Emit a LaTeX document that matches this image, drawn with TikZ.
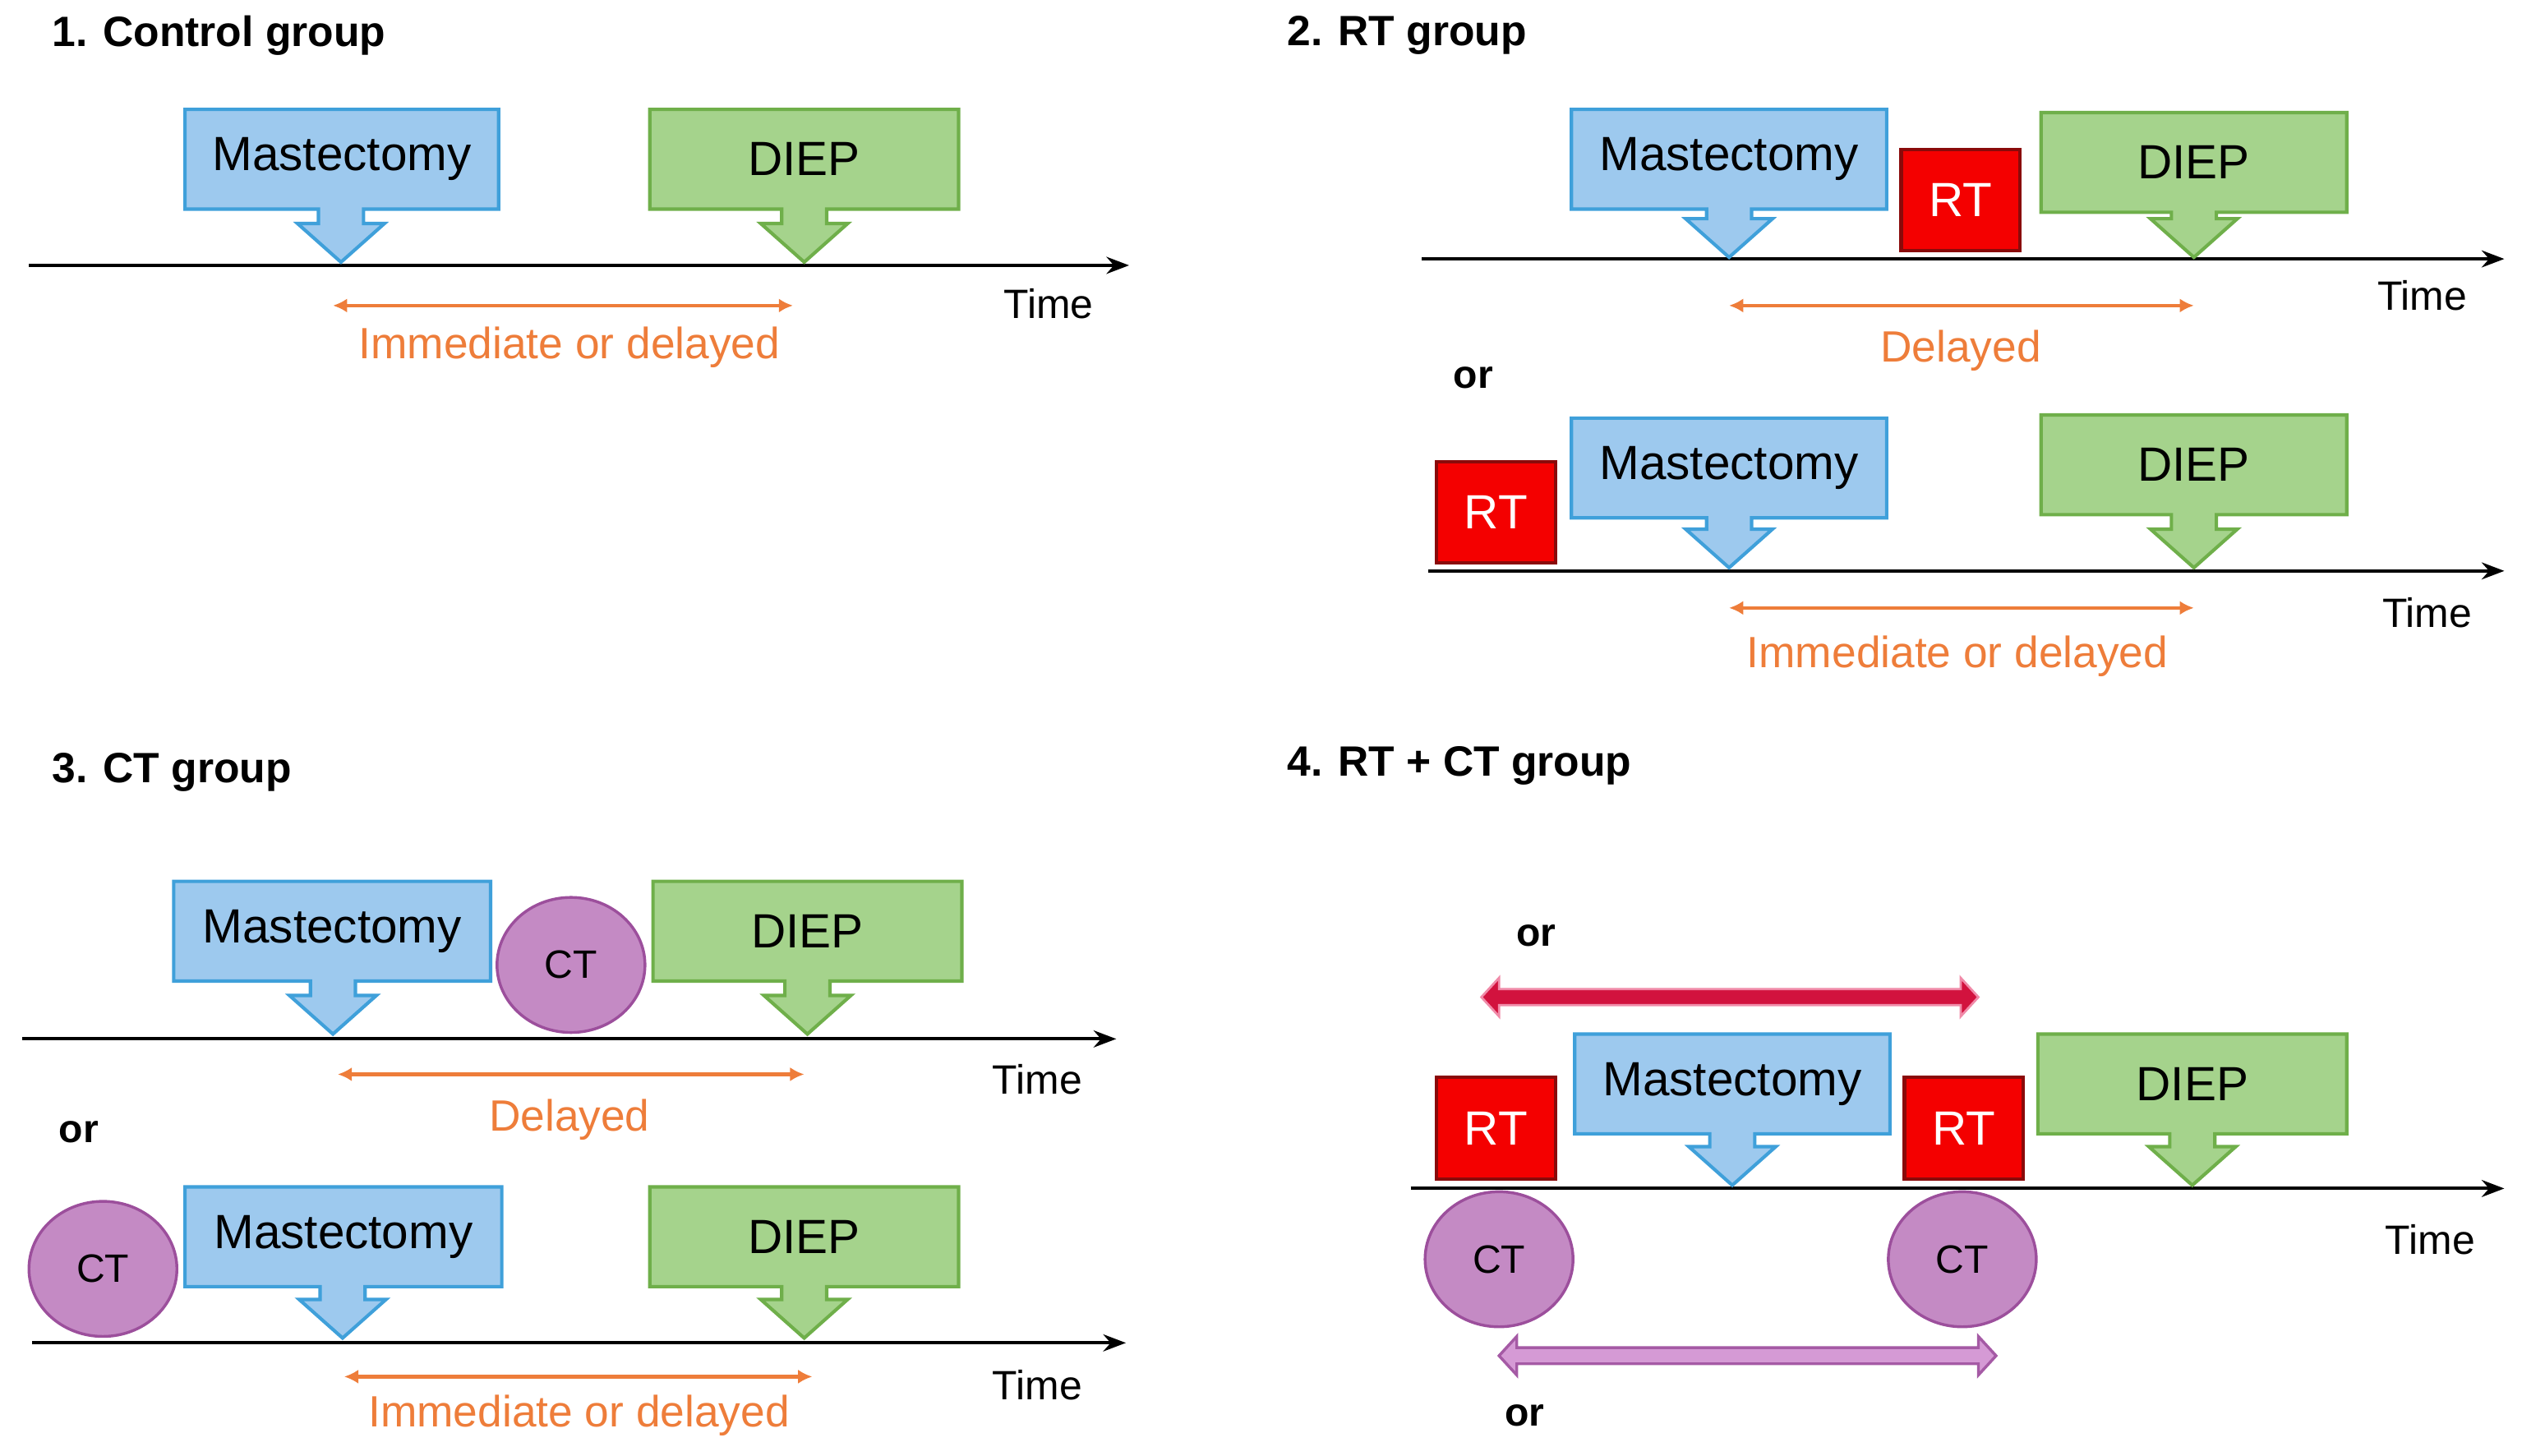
\documentclass[tikz,border=0pt]{standalone}
\usepackage{fontspec}
\setmainfont{Liberation Sans}
\usetikzlibrary{shapes.geometric,arrows.meta}
\definecolor{bfill}{HTML}{9DC9EE}
\definecolor{bdraw}{HTML}{3FA0DA}
\definecolor{gfill}{HTML}{A5D38C}
\definecolor{gdraw}{HTML}{6FAF4A}
\definecolor{rtred}{HTML}{F40000}
\definecolor{rtdraw}{HTML}{8A0A0A}
\definecolor{ctfill}{HTML}{C48AC4}
\definecolor{ctdraw}{HTML}{9C4F9C}
\definecolor{orng}{HTML}{EE7D3A}
\definecolor{crim}{HTML}{D2123E}
\definecolor{pinkd}{HTML}{F08AA8}
\definecolor{purp}{HTML}{D59AD5}
\definecolor{purpd}{HTML}{A55AA5}
\tikzset{
  lbl/.style={font=\fontsize{17pt}{19pt}\selectfont, inner sep=0},
  blue/.style={fill=bfill, draw=bdraw, line width=1.2pt},
  green/.style={fill=gfill, draw=gdraw, line width=1.2pt},
  rt/.style={rectangle, fill=rtred, draw=rtdraw, line width=1.2pt, minimum width=1.48cm, minimum height=1.26cm, text=white, font=\fontsize{17pt}{19pt}\selectfont, inner sep=0},
  ct/.style={ellipse, fill=ctfill, draw=ctdraw, line width=1pt, minimum width=1.84cm, minimum height=1.68cm, font=\fontsize{14pt}{16pt}\selectfont, inner sep=0},
  tl/.style={line width=1.2pt, -{Stealth[length=8pt,width=6pt]}},
  span/.style={orng, line width=1.2pt, {Latex[length=5pt,width=5pt]}-{Latex[length=5pt,width=5pt]}},
  spantxt/.style={text=orng, font=\fontsize{15.5pt}{17pt}\selectfont, inner sep=0},
  timetxt/.style={font=\fontsize{14.5pt}{16pt}\selectfont, inner sep=0},
  title/.style={font=\bfseries\fontsize{15pt}{17pt}\selectfont, anchor=west, inner sep=0},
  ortxt/.style={font=\bfseries\fontsize{14pt}{16pt}\selectfont, inner sep=0},
}
\newcommand\callout[9]{%
  \draw[#8] (#2,#4) -- (#3,#4) -- (#3,#5) -- ({#6+14},#5) -- ({#6+14},{#7-24}) -- ({#6+27},{#7-24}) -- (#6,#7) -- ({#6-27},{#7-24}) -- ({#6-14},{#7-24}) -- ({#6-14},#5) -- (#2,#5) -- cycle;
  \node[lbl] (#1) at ({(#2+#3)/2},{(#4+#5)/2}) {#9};}
\begin{document}
\begin{tikzpicture}[x=0.02cm,y=-0.02cm]
\useasboundingbox (0,0) rectangle (1568,905);
% Panel 1
\node[title] (t1) at (32,22) {1. Control group};
\coordinate (a1) at (18,165); \coordinate (b1) at (702,165);
\draw[tl] (a1) -- (b1);
\callout{m1}{115}{310}{68}{130}{212}{163}{blue}{Mastectomy}
\callout{d1}{404}{596}{68}{130}{500}{163}{green}{DIEP}
\node[timetxt] (time1) at (652,189) {Time};
\coordinate (s1a) at (207,190); \coordinate (s1b) at (493,190);
\draw[span] (s1a) -- (s1b);
\node[spantxt] (l1) at (354,216) {Immediate or delayed};
% Panel 2
\node[title] (t2) at (800,22) {2. RT group};
\coordinate (a2) at (884,161); \coordinate (b2) at (1557,161);
\draw[tl] (a2) -- (b2);
\callout{m2}{977}{1173}{68}{130}{1075}{160}{blue}{Mastectomy}
\callout{d2}{1269}{1459}{70}{132}{1364}{160}{green}{DIEP}
\node[rt] (r2) at (1219,124.5) {RT};
\node[timetxt] (time2) at (1506,184) {Time};
\coordinate (s2a) at (1075,190); \coordinate (s2b) at (1364,190);
\draw[span] (s2a) -- (s2b);
\node[spantxt] (l2) at (1219,218) {Delayed};
\node[ortxt] (or2) at (916,235) {or};
\coordinate (a3) at (888,355); \coordinate (b3) at (1557,355);
\draw[tl] (a3) -- (b3);
\callout{m3}{977}{1173}{260}{322}{1075}{353}{blue}{Mastectomy}
\callout{d3}{1269}{1459}{258}{320}{1364}{353}{green}{DIEP}
\node[rt] (r3) at (930,318.5) {RT};
\node[timetxt] (time3) at (1509,381) {Time};
\coordinate (s3a) at (1075,378); \coordinate (s3b) at (1364,378);
\draw[span] (s3a) -- (s3b);
\node[spantxt] (l3) at (1217,408) {Immediate or delayed};
% Panel 3
\node[title] (t3) at (32,480) {3. CT group};
\coordinate (a4) at (14,646); \coordinate (b4) at (694,646);
\draw[tl] (a4) -- (b4);
\callout{m4}{108}{305}{548}{610}{207}{643}{blue}{Mastectomy}
\callout{d4}{406}{598}{548}{610}{502}{643}{green}{DIEP}
\node[ct] (c4) at (355,600) {CT};
\node[timetxt] (time4) at (645,671) {Time};
\coordinate (s4a) at (210,668); \coordinate (s4b) at (500,668);
\draw[span] (s4a) -- (s4b);
\node[spantxt] (l4) at (354,696) {Delayed};
\node[ortxt] (or4) at (49,704) {or};
\coordinate (a5) at (20,835); \coordinate (b5) at (700,835);
\draw[tl] (a5) -- (b5);
\callout{m5}{115}{312}{738}{800}{213}{832}{blue}{Mastectomy}
\callout{d5}{404}{596}{738}{800}{500}{832}{green}{DIEP}
\node[ct] (c5) at (64,789) {CT};
\node[timetxt] (time5) at (645,861) {Time};
\coordinate (s5a) at (214,856); \coordinate (s5b) at (505,856);
\draw[span] (s5a) -- (s5b);
\node[spantxt] (l5) at (360,880) {Immediate or delayed};
% Panel 4
\node[title] (t6) at (800,476) {4. RT + CT group};
\node[ortxt] (or6a) at (955,582) {or};
\draw[fill=crim, draw=pinkd, line width=0.8pt] (921,620) -- (932,608) -- (932,615) -- (1219,615) -- (1219,608) -- (1230,620) -- (1219,632) -- (1219,625) -- (932,625) -- (932,632) -- cycle;
\coordinate (a6) at (877,739); \coordinate (b6) at (1557,739);
\draw[tl] (a6) -- (b6);
\callout{m6}{979}{1175}{643}{705}{1077}{737}{blue}{Mastectomy}
\callout{d6}{1267}{1459}{643}{705}{1363}{737}{green}{DIEP}
\node[rt] (r6a) at (930,701.5) {RT};
\node[rt] (r6b) at (1221,701.5) {RT};
\node[ct] (c6a) at (932,783) {CT};
\node[ct] (c6b) at (1220,783) {CT};
\node[timetxt] (time6) at (1511,771) {Time};
\draw[fill=purp, draw=purpd, line width=1pt] (932,843) -- (943,831) -- (943,838) -- (1230,838) -- (1230,831) -- (1241,843) -- (1230,855) -- (1230,848) -- (943,848) -- (943,855) -- cycle;
\node[ortxt] (or6b) at (948,880) {or};
\end{tikzpicture}
\end{document}
